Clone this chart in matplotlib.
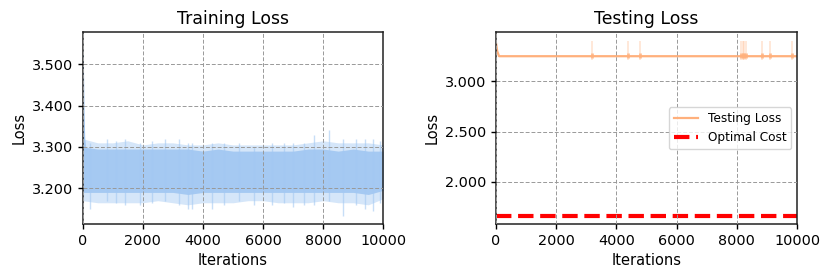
import matplotlib
matplotlib.use("Agg")
import matplotlib.pyplot as plt
from matplotlib.ticker import FormatStrFormatter

# ---------------- data ----------------
# Training loss: initial drop, then a noisy band (envelopes read every 500 iterations)
start_x = [0, 15, 30, 50, 80, 120]
start_y = [3.53, 3.46, 3.38, 3.32, 3.30, 3.29]
band_x = [0, 500, 1000, 1500, 2000, 2500, 3000, 3500, 4000, 4500, 5000,
          5500, 6000, 6500, 7000, 7500, 8000, 8500, 9000, 9500, 10000]
band_outer_lo = [3.17, 3.165, 3.165, 3.165, 3.165, 3.17, 3.165, 3.16, 3.165, 3.165, 3.165,
                 3.17, 3.17, 3.165, 3.165, 3.165, 3.17, 3.165, 3.165, 3.16, 3.175]
band_outer_hi = [3.32, 3.31, 3.31, 3.315, 3.305, 3.31, 3.31, 3.305, 3.305, 3.31, 3.305,
                 3.305, 3.305, 3.305, 3.305, 3.31, 3.315, 3.31, 3.31, 3.31, 3.305]
band_core_lo = [3.19, 3.19, 3.19, 3.19, 3.19, 3.19, 3.19, 3.185, 3.19, 3.19, 3.19,
                3.19, 3.19, 3.19, 3.19, 3.19, 3.19, 3.19, 3.19, 3.185, 3.195]
band_core_hi = [3.30, 3.295, 3.295, 3.295, 3.295, 3.295, 3.295, 3.295, 3.29, 3.295, 3.29,
                3.29, 3.29, 3.29, 3.29, 3.295, 3.295, 3.29, 3.295, 3.29, 3.29]
# individual spikes of the training loss (iteration, low, high)
spike_x = [250, 800, 1100, 1400, 1900, 2300, 2750, 3200, 3500, 3650, 4300, 4700, 5200, 5700,
           6300, 6700, 7000, 7350, 7700, 8200, 8650, 9100, 9400, 9650, 9900]
spike_lo = [3.15, 3.17, 3.165, 3.16, 3.16, 3.165, 3.17, 3.16, 3.15, 3.15, 3.15, 3.16, 3.17, 3.16,
            3.16, 3.165, 3.155, 3.16, 3.16, 3.17, 3.133, 3.16, 3.15, 3.145, 3.165]
spike_hi = [3.31, 3.32, 3.315, 3.32, 3.31, 3.315, 3.32, 3.32, 3.31, 3.31, 3.31, 3.31, 3.31, 3.30,
            3.31, 3.31, 3.31, 3.31, 3.33, 3.341, 3.32, 3.32, 3.32, 3.32, 3.315]

# Testing loss: initial drop, flat plateau, short spikes
test_start_x = [0, 40, 100]
test_start_y = [3.38, 3.30, 3.25]
test_plateau = 3.25
test_spike_x = [3200, 4400, 4800, 8150, 8200, 8250, 8300, 8850, 9100, 9850]
test_spike_hi = [3.40, 3.40, 3.40, 3.40, 3.40, 3.40, 3.40, 3.40, 3.40, 3.40]
test_spike_lo = [3.21, 3.21, 3.21, 3.21, 3.21, 3.21, 3.21, 3.21, 3.21, 3.21]
test_spike_core_hi = [3.28, 3.28, 3.28, 3.28, 3.28, 3.28, 3.28, 3.28, 3.28, 3.28]
test_spike_core_lo = [3.23, 3.23, 3.23, 3.23, 3.23, 3.23, 3.23, 3.23, 3.23, 3.23]
optimal_cost = 1.658

x_max = 10000

# ---------------- plotting ----------------
fig = plt.figure(figsize=(8.31, 2.80), dpi=100)
ax1 = fig.add_axes([0.0995, 0.2, 0.3618, 0.6846])
ax2 = fig.add_axes([0.5969, 0.2, 0.3622, 0.6846])

blue = "#a3c8f2"
ax1.fill_between(band_x, band_outer_lo, band_outer_hi, color=blue, alpha=0.45, lw=0)
ax1.fill_between(band_x, band_core_lo, band_core_hi, color=blue, alpha=0.95, lw=0)
ax1.vlines(spike_x, spike_lo, spike_hi, color=blue, alpha=0.6, lw=1)
ax1.plot(start_x, start_y, color=blue, lw=1.5)
ax1.set_xlim(0, x_max)
ax1.set_ylim(3.1136, 3.5775)
ax1.set_title("Training Loss", fontsize=12.4)
ax1.set_xlabel("Iterations", fontsize=10.5)
ax1.set_ylabel("Loss", fontsize=10.5)
ax1.set_yticks([3.2, 3.3, 3.4, 3.5])
ax1.yaxis.set_major_formatter(FormatStrFormatter("%.3f"))

orange = "#ffb07c"
ax2.plot(test_start_x + [x_max], test_start_y + [test_plateau], color=orange, lw=1.6,
         label="Testing Loss")
ax2.vlines(test_spike_x, test_spike_lo, test_spike_hi, color=orange, alpha=0.35, lw=1.2)
ax2.vlines(test_spike_x, test_spike_core_lo, test_spike_core_hi, color=orange, alpha=0.8, lw=2)
ax2.axhline(optimal_cost, color="red", ls="--", lw=3, label="Optimal Cost")
ax2.set_xlim(0, x_max)
ax2.set_ylim(1.579, 3.488)
ax2.set_title("Testing Loss", fontsize=12.4)
ax2.set_xlabel("Iterations", fontsize=10.5)
ax2.set_ylabel("Loss", fontsize=10.5)
ax2.set_yticks([2.0, 2.5, 3.0])
ax2.yaxis.set_major_formatter(FormatStrFormatter("%.3f"))
ax2.legend(loc="center right", fontsize=8.7)

for ax in (ax1, ax2):
    ax.set_xticks([0, 2000, 4000, 6000, 8000, 10000])
    ax.tick_params(labelsize=10.4, width=1.0)
    ax.grid(True, color="#999999", ls=(0, (4, 2)), lw=0.7)
    ax.set_axisbelow(False)
    for s in ax.spines.values():
        s.set_linewidth(1.1)
        s.set_color("#222222")

fig.savefig("out.png", dpi=100)
